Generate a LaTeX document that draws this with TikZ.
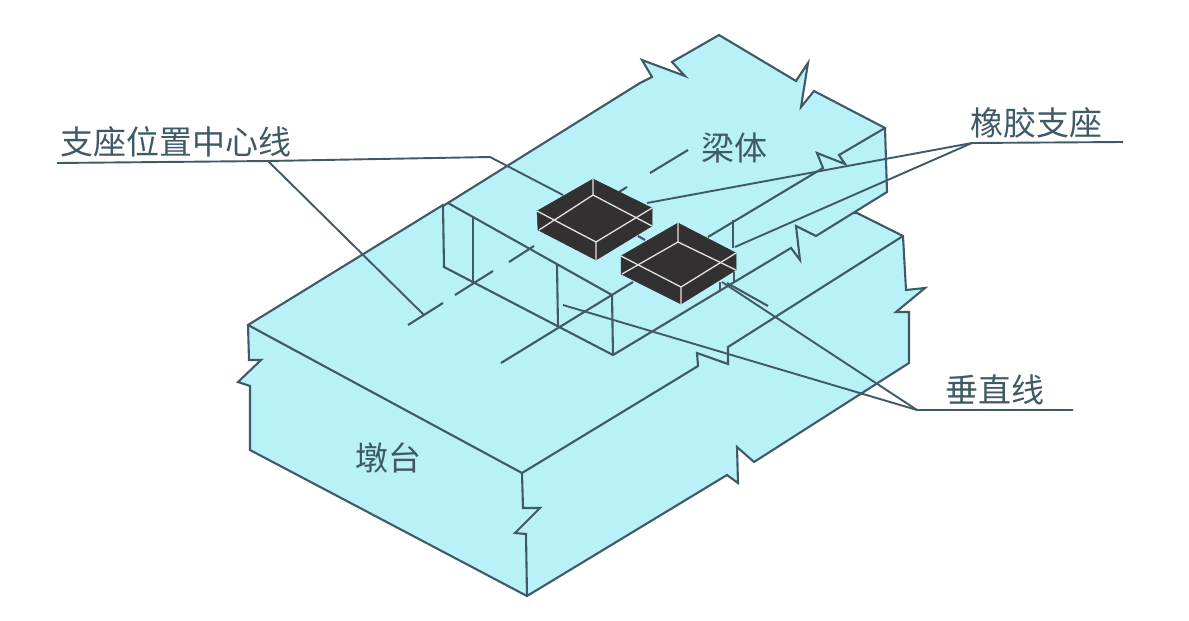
\documentclass[tikz,border=0pt]{standalone}
\usepackage{fontspec}
\newfontfamily\cjk{Noto Sans CJK SC}
\definecolor{concrete}{HTML}{B8F1F8}
\definecolor{inkline}{HTML}{3F5A66}
\definecolor{padblack}{HTML}{333031}
\definecolor{padwhite}{HTML}{E4E2DC}
\tikzset{
  edgeline/.style={draw=inkline,line width=2.1pt,line join=miter},
  leaderline/.style={draw=inkline,line width=1.9pt},
  padbody/.style={fill=padblack,draw=padblack,line width=0.5pt},
  padedge/.style={draw=padwhite,line width=1.3pt},
  labeltext/.style={text=inkline,inner sep=0pt,font=\cjk\fontsize{33}{33}\selectfont}
}
\begin{document}
\begin{tikzpicture}[x=1pt,y=-1pt]
\useasboundingbox (0,0) rectangle (1189,621);
% pier
\draw[edgeline,fill=concrete] (248,325) -- (443,205) -- (857,213) -- (903,236) -- (906,290) -- (925,288) -- (896,312) -- (909,312) -- (909,363) -- (754,462) -- (737,447) -- (738,483) -- (727,475) -- (527,596) -- (250,450) -- (250,386) -- (238,382) -- (261,360) -- (249,360) -- cycle;
\draw[edgeline] (248,325) -- (522,473) -- (523,508) -- (540,508) -- (515,533) -- (526,534) -- (527,596);
\draw[edgeline] (522,473) -- (680,377) -- (698,366) -- (697,353) -- (728,364) -- (728,347) -- (903,236);
% beam
\draw[edgeline,fill=concrete] (443,206) -- (640,83) -- (652,77) -- (642,60) -- (685,76) -- (672,62) -- (719,35) -- (796,81) -- (808,63) -- (801,107) -- (814,91) -- (885,128) -- (887,192) -- (816,236) -- (796,226) -- (800,260) -- (791,248) -- (613,355) -- (444,267) -- cycle;
\draw[edgeline] (448,203) -- (612,295) -- (613,355);
\draw[edgeline] (501,363) -- (633,282);
\draw[edgeline] (708,237) -- (823,168) -- (817,153) -- (845,164) -- (839,155) -- (885,128);
\draw[edgeline] (473,218) -- (473,282);
\draw[edgeline] (557,265) -- (558,327);
\draw[edgeline] (733,220) -- (733,248);
\draw[edgeline] (734,272) -- (734,283);
\draw[edgeline] (720,282) -- (720,290);
% centre lines
\draw[edgeline] (408,325) -- (443,303);
\draw[edgeline] (455,295) -- (493,271);
\draw[edgeline] (509,262) -- (534,246);
\draw[edgeline] (619,192) -- (627,187);
\draw[edgeline] (650,173) -- (688,150);
\draw[edgeline] (638,236) -- (645,240);
\draw[edgeline] (727,283) -- (768,306);
% pads
\fill[padbody] (593,179) -- (652,208) -- (652,226) -- (596,260) -- (538,230) -- (537,211) -- cycle;
\draw[padedge] (593,179) -- (593,195) (593,195) -- (539,230) (593,195) -- (652,226);
\draw[padedge] (537,211) -- (596,242) -- (652,208) (596,242) -- (596,260);
\fill[padbody] (678,223) -- (736,253) -- (736,270) -- (681,304) -- (621,274) -- (621,256) -- cycle;
\draw[padedge] (678,223) -- (678,242) (678,242) -- (622,274) (678,242) -- (736,270);
\draw[padedge] (621,256) -- (681,287) -- (736,253) (681,287) -- (681,304);
% labels
\node[labeltext] (centreline) at (176,142) {支座位置中心线};
\node[labeltext] (girder) at (734,148) {梁体};
\node[labeltext] (bearing) at (1036,123) {橡胶支座};
\node[labeltext] (plumb) at (995,390) {垂直线};
\node[labeltext] (abutment) at (388,458) {墩台};
% leaders
\coordinate (centrefork) at (268,161);
\coordinate (centrebend) at (490,157);
\coordinate (bearingfork) at (972,143);
\coordinate (plumbfork) at (917,410);
\draw[leaderline] (57,163) -- (centrefork) -- (centrebend) -- (563,195);
\draw[leaderline] (centrefork) -- (424,315);
\draw[leaderline] (1123,142) -- (bearingfork) -- (647,203);
\draw[leaderline] (bearingfork) -- (735,247);
\draw[leaderline] (1073,410) -- (plumbfork) -- (722,282);
\draw[leaderline] (plumbfork) -- (563,305);
\end{tikzpicture}
\end{document}
